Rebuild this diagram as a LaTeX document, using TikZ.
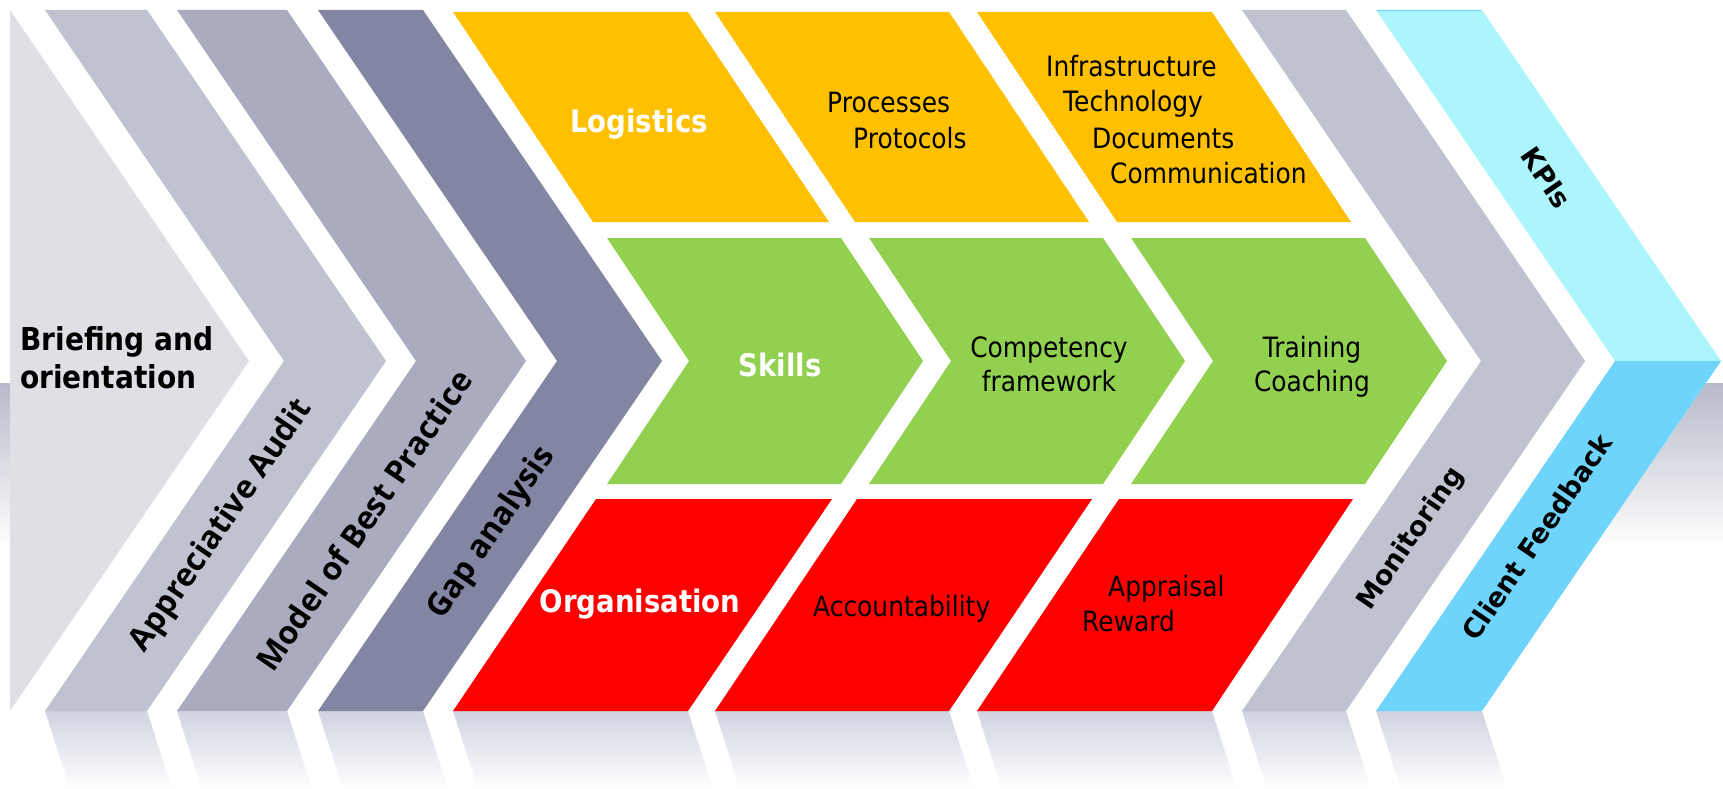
\documentclass[tikz,border=0pt]{standalone}
\usepackage{fontspec}
\newfontfamily\tah[FakeStretch=0.89]{DejaVu Sans}
\newfontfamily\verd{DejaVu Sans}
\newfontfamily\osans{Open Sans}
\definecolor{gA}{HTML}{DFE0E6}
\definecolor{gB}{HTML}{BFC2CF}
\definecolor{gC}{HTML}{A9ACBF}
\definecolor{gD}{HTML}{8286A2}
\definecolor{yel}{HTML}{FFC000}
\definecolor{grn}{HTML}{92D050}
\definecolor{rdd}{HTML}{FF0000}
\definecolor{cyA}{HTML}{ADF5FC}
\definecolor{cyB}{HTML}{6FD4FC}
\definecolor{reflc}{HTML}{D0D3E0}
\definecolor{bandc}{HTML}{B7BAC9}
\begin{document}
\begin{tikzpicture}[x=1pt,y=-1pt,
  boldw/.style={inner sep=0, text=white, font=\tah\bfseries\fontsize{31}{37}\selectfont, anchor=base},
  boldk/.style={inner sep=0, text=black, font=\tah\bfseries\fontsize{31.5}{37}\selectfont, anchor=base west},
  reg/.style={inner sep=0, text=black, font=\tah\fontsize{28}{34}\selectfont},
  rotl/.style={inner sep=0, font=\osans\bfseries\fontsize{32}{38}\selectfont, rotate=55.6},
  rotr/.style={inner sep=0, font=\verd\bfseries\fontsize{27}{32}\selectfont, rotate=55.6},
  rotk/.style={inner sep=0, font=\verd\bfseries\fontsize{27}{32}\selectfont, rotate=-55.6},
  reflbox/.style={top color=reflc, bottom color=white}
]
\useasboundingbox (0,0) rectangle (1723,789);
\fill[white] (0,0) rectangle (1723,789);
% background band
\shade[top color=bandc, bottom color=white] (0,383) rectangle (1723,548);
\fill[white] (10,10) -- (1482,10) -- (1721,361) -- (1482,711) -- (10,711) -- cycle;
% reflections
\foreach \a/\b in {45/147,177/287,318/423,453/688,715/949,977/1212,1242/1346,1376/1482}{
  \shade[reflbox] (\a,711) -- (\b,711) -- ({\b+25},789) -- ({\a+25},789) -- cycle;
}
% left chevrons
\fill[gA] (10,10) -- (249,361) -- (10,711) -- cycle;
\fill[gB] (45,10) -- (147,10) -- (386,361) -- (147,711) -- (45,711) -- (284,361) -- cycle;
\fill[gC] (177,10) -- (287,10) -- (526,361) -- (287,711) -- (177,711) -- (416,361) -- cycle;
\fill[gD] (318,10) -- (423,10) -- (662,361) -- (423,711) -- (318,711) -- (557,361) -- cycle;
% right chevrons
\fill[gB] (1242,10) -- (1346,10) -- (1585,361) -- (1346,711) -- (1242,711) -- (1481,361) -- cycle;
\fill[cyA] (1376,10) -- (1482,10) -- (1721,361) -- (1615,361) -- cycle;
\fill[cyB] (1615,361) -- (1721,361) -- (1482,711) -- (1376,711) -- cycle;
\draw[cyB, line width=1.2] (1377,10.6) -- (1481,10.6);
% yellow row
\fill[yel] (453,12) -- (688,12) -- (829,222) -- (593,222) -- cycle;
\fill[yel] (715,12) -- (949,12) -- (1089,222) -- (855,222) -- cycle;
\fill[yel] (977,12) -- (1212,12) -- (1351,222) -- (1117,222) -- cycle;
% green row
\fill[grn] (607,238) -- (841,238) -- (923,361) -- (841,484) -- (607,484) -- (689,361) -- cycle;
\fill[grn] (869,238) -- (1103,238) -- (1185,361) -- (1103,484) -- (869,484) -- (951,361) -- cycle;
\fill[grn] (1131,238) -- (1365,238) -- (1447,361) -- (1365,484) -- (1131,484) -- (1213,361) -- cycle;
% red row
\fill[rdd] (596,499) -- (832,499) -- (688,711) -- (453,711) -- cycle;
\fill[rdd] (857,499) -- (1092,499) -- (949,711) -- (715,711) -- cycle;
\fill[rdd] (1119,499) -- (1353,499) -- (1212,711) -- (977,711) -- cycle;
% labels
\node[boldk] (br1) at (20,350) {Briefing and};
\node[boldk] (br2) at (20,388) {orientation};
\node[rotl] (aa) at (222,526) {Appreciative Audit};
\node[rotl] (mb) at (364,520) {Model of Best Practice};
\node[rotl] (ga) at (492,533) {Gap analysis};
\node[rotr] (mo) at (1411,539) {Monitoring};
\node[rotr] (cf) at (1537,537) {Client Feedback};
\node[rotk] (kp) at (1546,178) {KPIs};
\node[boldw] (lo) at (639,132) {Logistics};
\node[boldw] (sk) at (780,376) {Skills};
\node[boldw] (or) at (640,612) {Organisation};
\node[reg, anchor=base west] (p1) at (827,113) {Processes};
\node[reg, anchor=base west] (p2) at (853,148) {Protocols};
\node[reg, anchor=base west] (i1) at (1046,77) {Infrastructure};
\node[reg, anchor=base west] (i2) at (1063,112) {Technology};
\node[reg, anchor=base west] (i3) at (1092,148) {Documents};
\node[reg, anchor=base west] (i4) at (1110,183) {Communication};
\node[reg, anchor=base] (c1) at (1049,357) {Competency};
\node[reg, anchor=base] (c2) at (1049,391) {framework};
\node[reg, anchor=base] (t1) at (1312,357) {Training};
\node[reg, anchor=base] (t2) at (1312,391) {Coaching};
\node[reg, anchor=base west] (ac) at (813,616) {Accountability};
\node[reg, anchor=base west] (a1) at (1108,596) {Appraisal};
\node[reg, anchor=base west] (a2) at (1082,631) {Reward};
\end{tikzpicture}
\end{document}
